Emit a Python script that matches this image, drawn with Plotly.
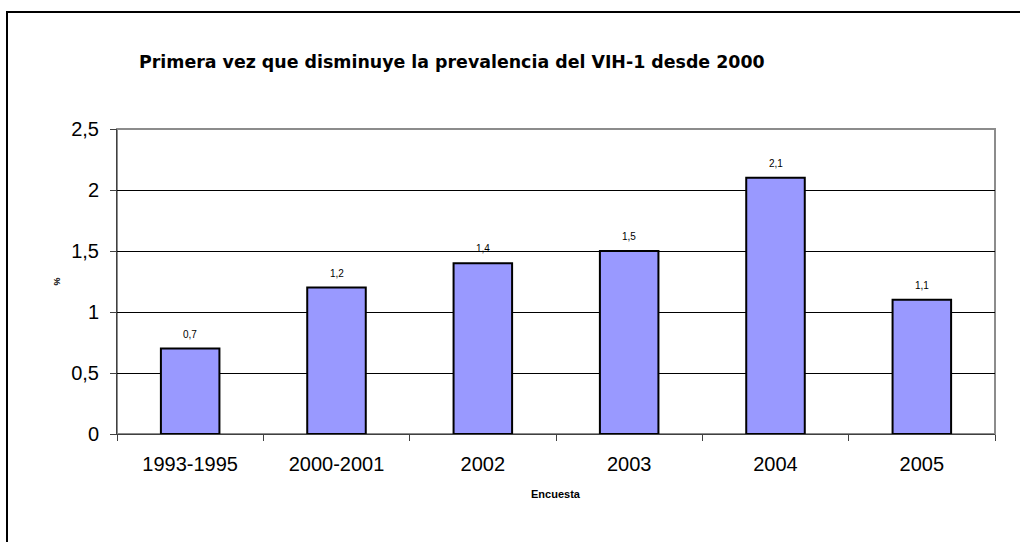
import plotly.graph_objects as go

categories = ["1993-1995", "2000-2001", "2002", "2003", "2004", "2005"]
values = [0.7, 1.2, 1.4, 1.5, 2.1, 1.1]
y_ticks = [0, 0.5, 1, 1.5, 2, 2.5]
title = "Primera vez que disminuye la prevalencia del VIH-1 desde 2000"
x_title = "Encuesta"
y_title = "%"

W, H = 1020, 542
L, R, T, B = 117, 25, 129, 108
pw, ph = W - L - R, H - T - B
FONT = "Liberation Sans, Arial, sans-serif"

fig = go.Figure()
fig.add_trace(go.Bar(
    x=categories, y=values,
    marker=dict(color="#9999FF", line=dict(color="black", width=2)),
    hoverinfo="skip",
))

for i, v in enumerate(values):
    fig.add_annotation(x=i, y=v, text=f"{v:.1f}".replace(".", ","), showarrow=False,
                       yanchor="bottom", yshift=7,
                       font=dict(family=FONT, size=10, color="black"))

# axis titles
fig.add_annotation(xref="paper", yref="paper", x=0.5, y=0, yshift=-60,
                   text=f"<b>{x_title}</b>", showarrow=False, yanchor="middle",
                   font=dict(family=FONT, size=11, color="black"))
fig.add_annotation(xref="paper", yref="paper", x=0, y=0.5, xshift=-61,
                   text=f"<b>{y_title}</b>", showarrow=False, textangle=-90,
                   xanchor="center", yanchor="middle",
                   font=dict(family=FONT, size=9, color="black"))

# plot area frame (gray)
fig.add_shape(type="rect", xref="paper", yref="paper", x0=0, y0=0, x1=1, y1=1,
              line=dict(color="#8c8c8c", width=2), layer="below")
# outer chart frame
fig.add_shape(type="rect", xref="paper", yref="paper",
              x0=(7 - L) / pw, y0=-2, x1=2, y1=(H - B - 12) / ph,
              line=dict(color="black", width=2))

fig.update_layout(
    width=W, height=H,
    margin=dict(l=L, r=R, t=T, b=B, autoexpand=False),
    paper_bgcolor="white", plot_bgcolor="white",
    separators=",.",
    bargap=0.6,
    showlegend=False,
    font=dict(family=FONT, color="black"),
    title=dict(text=f"<b>{title}</b>", x=139 / W, xanchor="left", xref="container",
               y=1 - 62 / H, yanchor="middle",
               font=dict(family="DejaVu Sans, sans-serif", size=17.4, color="black")),
    xaxis=dict(
        type="category", automargin=False, tickangle=0, range=[-0.5, 5.5],
        showline=True, linecolor="#404040", linewidth=1,
        ticks="outside", tickson="boundaries", ticklen=6, tickcolor="#404040",
        tickfont=dict(size=20), ticklabelstandoff=12, showgrid=False,
    ),
    yaxis=dict(
        range=[0, 2.5], tickvals=y_ticks, tickformat=".1~f", automargin=False,
        showline=True, linecolor="#404040", linewidth=1,
        ticks="outside", ticklen=6, tickcolor="#404040",
        tickfont=dict(size=20), ticklabelstandoff=7,
        showgrid=True, gridcolor="black", gridwidth=1,
        zeroline=False,
    ),
)

fig.write_html("out.html", config={"displayModeBar": False},
               post_script="document.body.style.margin='0';")
